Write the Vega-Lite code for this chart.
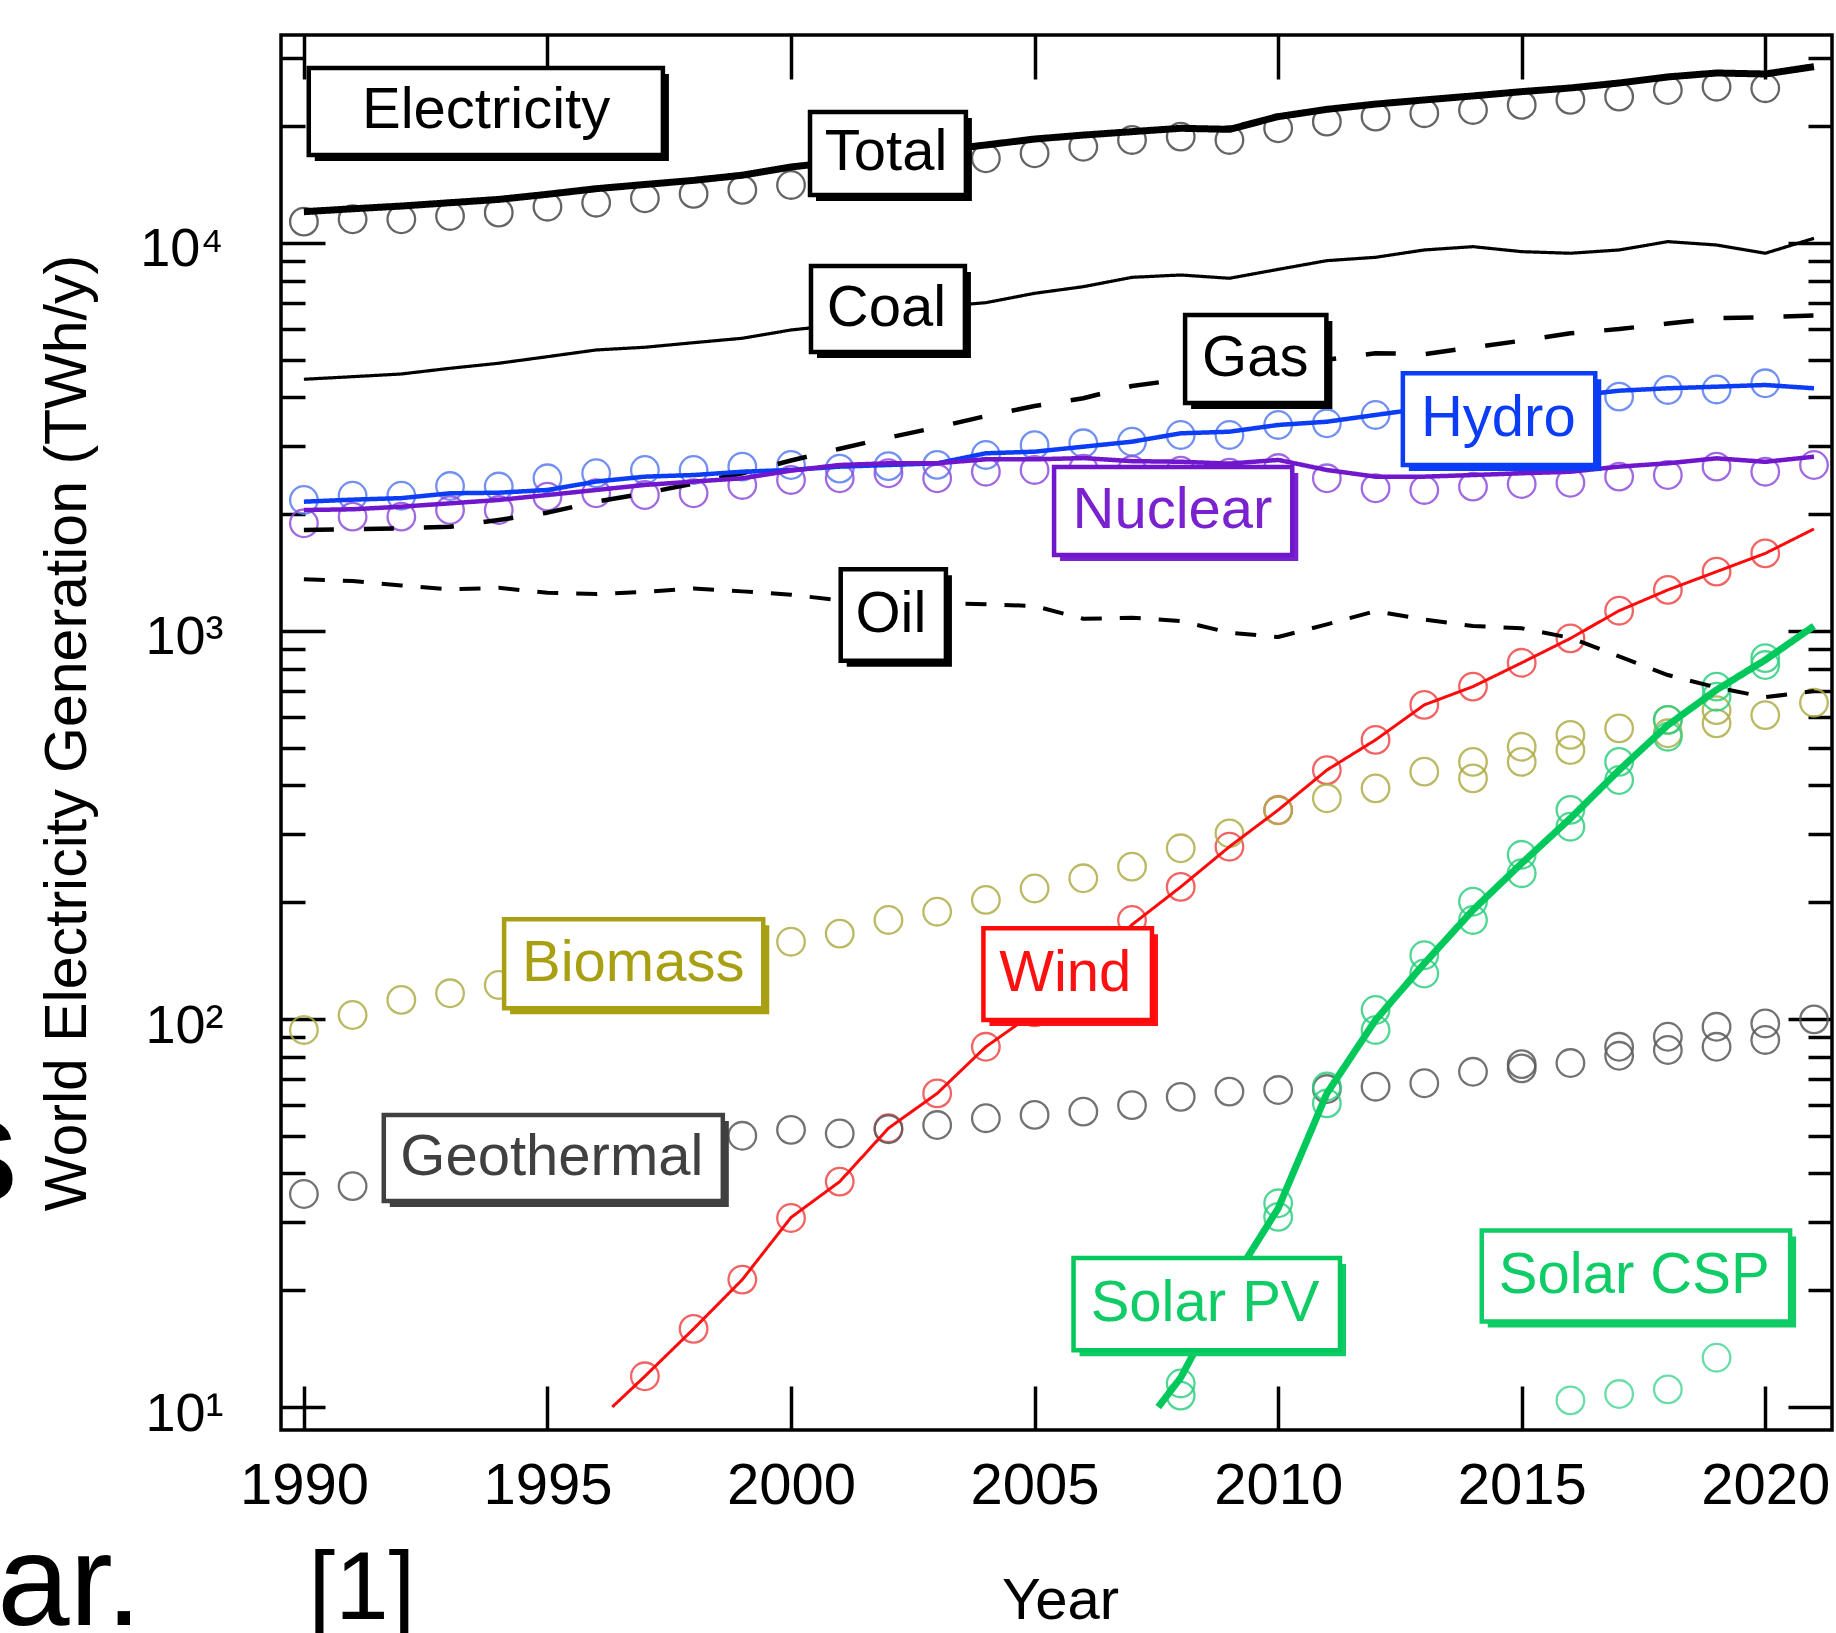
{
"$schema": "https://vega.github.io/schema/vega-lite/v6.json",
"width": 1551,
"height": 1395,
"autosize": {"type": "none"},
"padding": {"left": 281, "top": 35, "right": 4, "bottom": 203},
"background": "white",
"config": {"view": {"stroke": "black", "strokeWidth": 3.5}, "font": "Liberation Sans"},
"datasets": {
"lines": [
{"series":"Total","year":1990,"value":12040},{"series":"Total","year":1991,"value":12250},{"series":"Total","year":1992,"value":12450},{"series":"Total","year":1993,"value":12700},{"series":"Total","year":1994,"value":12950},{"series":"Total","year":1995,"value":13350},{"series":"Total","year":1996,"value":13800},{"series":"Total","year":1997,"value":14150},{"series":"Total","year":1998,"value":14500},{"series":"Total","year":1999,"value":14950},{"series":"Total","year":2000,"value":15700},{"series":"Total","year":2001,"value":16200},{"series":"Total","year":2002,"value":16700},{"series":"Total","year":2003,"value":17300},{"series":"Total","year":2004,"value":17890},{"series":"Total","year":2005,"value":18530},{"series":"Total","year":2006,"value":18970},{"series":"Total","year":2007,"value":19360},{"series":"Total","year":2008,"value":19750},{"series":"Total","year":2009,"value":19630},{"series":"Total","year":2010,"value":21160},{"series":"Total","year":2011,"value":22100},{"series":"Total","year":2012,"value":22800},{"series":"Total","year":2013,"value":23370},{"series":"Total","year":2014,"value":23930},{"series":"Total","year":2015,"value":24550},{"series":"Total","year":2016,"value":25090},{"series":"Total","year":2017,"value":25840},{"series":"Total","year":2018,"value":26790},{"series":"Total","year":2019,"value":27420},{"series":"Total","year":2020,"value":27260},{"series":"Total","year":2021,"value":28470},
{"series":"Coal","year":1990,"value":4454},{"series":"Coal","year":1991,"value":4523},{"series":"Coal","year":1992,"value":4596},{"series":"Coal","year":1993,"value":4754},{"series":"Coal","year":1994,"value":4898},{"series":"Coal","year":1995,"value":5093},{"series":"Coal","year":1996,"value":5300},{"series":"Coal","year":1997,"value":5386},{"series":"Coal","year":1998,"value":5534},{"series":"Coal","year":1999,"value":5681},{"series":"Coal","year":2000,"value":5968},{"series":"Coal","year":2001,"value":6150},{"series":"Coal","year":2002,"value":6450},{"series":"Coal","year":2003,"value":6850},{"series":"Coal","year":2004,"value":7016},{"series":"Coal","year":2005,"value":7418},{"series":"Coal","year":2006,"value":7715},{"series":"Coal","year":2007,"value":8155},{"series":"Coal","year":2008,"value":8270},{"series":"Coal","year":2009,"value":8110},{"series":"Coal","year":2010,"value":8550},{"series":"Coal","year":2011,"value":9004},{"series":"Coal","year":2012,"value":9185},{"series":"Coal","year":2013,"value":9594},{"series":"Coal","year":2014,"value":9784},{"series":"Coal","year":2015,"value":9498},{"series":"Coal","year":2016,"value":9408},{"series":"Coal","year":2017,"value":9594},{"series":"Coal","year":2018,"value":10080},{"series":"Coal","year":2019,"value":9881},{"series":"Coal","year":2020,"value":9408},{"series":"Coal","year":2021,"value":10280},
{"series":"Gas","year":1990,"value":1821},{"series":"Gas","year":1991,"value":1830},{"series":"Gas","year":1992,"value":1840},{"series":"Gas","year":1993,"value":1857},{"series":"Gas","year":1994,"value":1932},{"series":"Gas","year":1995,"value":2018},{"series":"Gas","year":1996,"value":2154},{"series":"Gas","year":1997,"value":2264},{"series":"Gas","year":1998,"value":2400},{"series":"Gas","year":1999,"value":2550},{"series":"Gas","year":2000,"value":2750},{"series":"Gas","year":2001,"value":2950},{"series":"Gas","year":2002,"value":3150},{"series":"Gas","year":2003,"value":3350},{"series":"Gas","year":2004,"value":3580},{"series":"Gas","year":2005,"value":3800},{"series":"Gas","year":2006,"value":3980},{"series":"Gas","year":2007,"value":4280},{"series":"Gas","year":2008,"value":4450},{"series":"Gas","year":2009,"value":4450},{"series":"Gas","year":2010,"value":4850},{"series":"Gas","year":2011,"value":5000},{"series":"Gas","year":2012,"value":5200},{"series":"Gas","year":2013,"value":5170},{"series":"Gas","year":2014,"value":5380},{"series":"Gas","year":2015,"value":5600},{"series":"Gas","year":2016,"value":5850},{"series":"Gas","year":2017,"value":6000},{"series":"Gas","year":2018,"value":6200},{"series":"Gas","year":2019,"value":6400},{"series":"Gas","year":2020,"value":6440},{"series":"Gas","year":2021,"value":6500},
{"series":"Oil","year":1990,"value":1360},{"series":"Oil","year":1991,"value":1345},{"series":"Oil","year":1992,"value":1310},{"series":"Oil","year":1993,"value":1280},{"series":"Oil","year":1994,"value":1292},{"series":"Oil","year":1995,"value":1255},{"series":"Oil","year":1996,"value":1245},{"series":"Oil","year":1997,"value":1262},{"series":"Oil","year":1998,"value":1287},{"series":"Oil","year":1999,"value":1265},{"series":"Oil","year":2000,"value":1240},{"series":"Oil","year":2001,"value":1200},{"series":"Oil","year":2002,"value":1190},{"series":"Oil","year":2003,"value":1180},{"series":"Oil","year":2004,"value":1172},{"series":"Oil","year":2005,"value":1160},{"series":"Oil","year":2006,"value":1075},{"series":"Oil","year":2007,"value":1082},{"series":"Oil","year":2008,"value":1061},{"series":"Oil","year":2009,"value":990},{"series":"Oil","year":2010,"value":965},{"series":"Oil","year":2011,"value":1040},{"series":"Oil","year":2012,"value":1125},{"series":"Oil","year":2013,"value":1070},{"series":"Oil","year":2014,"value":1030},{"series":"Oil","year":2015,"value":1016},{"series":"Oil","year":2016,"value":960},{"series":"Oil","year":2017,"value":860},{"series":"Oil","year":2018,"value":770},{"series":"Oil","year":2019,"value":715},{"series":"Oil","year":2020,"value":675},{"series":"Oil","year":2021,"value":700},
{"series":"Hydro","year":1990,"value":2154},{"series":"Hydro","year":1991,"value":2180},{"series":"Hydro","year":1992,"value":2200},{"series":"Hydro","year":1993,"value":2264},{"series":"Hydro","year":1994,"value":2272},{"series":"Hydro","year":1995,"value":2309},{"series":"Hydro","year":1996,"value":2427},{"series":"Hydro","year":1997,"value":2499},{"series":"Hydro","year":1998,"value":2523},{"series":"Hydro","year":1999,"value":2573},{"series":"Hydro","year":2000,"value":2600},{"series":"Hydro","year":2001,"value":2652},{"series":"Hydro","year":2002,"value":2678},{"series":"Hydro","year":2003,"value":2705},{"series":"Hydro","year":2004,"value":2871},{"series":"Hydro","year":2005,"value":2898},{"series":"Hydro","year":2006,"value":2985},{"series":"Hydro","year":2007,"value":3075},{"series":"Hydro","year":2008,"value":3232},{"series":"Hydro","year":2009,"value":3263},{"series":"Hydro","year":2010,"value":3396},{"series":"Hydro","year":2011,"value":3462},{"series":"Hydro","year":2012,"value":3604},{"series":"Hydro","year":2013,"value":3750},{"series":"Hydro","year":2014,"value":3860},{"series":"Hydro","year":2015,"value":3900},{"series":"Hydro","year":2016,"value":4030},{"series":"Hydro","year":2017,"value":4162},{"series":"Hydro","year":2018,"value":4222},{"series":"Hydro","year":2019,"value":4262},{"series":"Hydro","year":2020,"value":4305},{"series":"Hydro","year":2021,"value":4222},
{"series":"Nuclear","year":1990,"value":2050},{"series":"Nuclear","year":1991,"value":2059},{"series":"Nuclear","year":1992,"value":2091},{"series":"Nuclear","year":1993,"value":2133},{"series":"Nuclear","year":1994,"value":2176},{"series":"Nuclear","year":1995,"value":2241},{"series":"Nuclear","year":1996,"value":2309},{"series":"Nuclear","year":1997,"value":2379},{"series":"Nuclear","year":1998,"value":2427},{"series":"Nuclear","year":1999,"value":2475},{"series":"Nuclear","year":2000,"value":2590},{"series":"Nuclear","year":2001,"value":2678},{"series":"Nuclear","year":2002,"value":2705},{"series":"Nuclear","year":2003,"value":2705},{"series":"Nuclear","year":2004,"value":2770},{"series":"Nuclear","year":2005,"value":2770},{"series":"Nuclear","year":2006,"value":2790},{"series":"Nuclear","year":2007,"value":2740},{"series":"Nuclear","year":2008,"value":2730},{"series":"Nuclear","year":2009,"value":2700},{"series":"Nuclear","year":2010,"value":2760},{"series":"Nuclear","year":2011,"value":2600},{"series":"Nuclear","year":2012,"value":2499},{"series":"Nuclear","year":2013,"value":2499},{"series":"Nuclear","year":2014,"value":2523},{"series":"Nuclear","year":2015,"value":2550},{"series":"Nuclear","year":2016,"value":2573},{"series":"Nuclear","year":2017,"value":2652},{"series":"Nuclear","year":2018,"value":2705},{"series":"Nuclear","year":2019,"value":2786},{"series":"Nuclear","year":2020,"value":2729},{"series":"Nuclear","year":2021,"value":2813},
{"series":"Wind","year":1996.33,"value":10},{"series":"Wind","year":1997,"value":12.0},{"series":"Wind","year":1998,"value":15.9},{"series":"Wind","year":1999,"value":21.3},{"series":"Wind","year":2000,"value":30.8},{"series":"Wind","year":2001,"value":38.1},{"series":"Wind","year":2002,"value":52.3},{"series":"Wind","year":2003,"value":64.3},{"series":"Wind","year":2004,"value":84.8},{"series":"Wind","year":2005,"value":104},{"series":"Wind","year":2006,"value":133},{"series":"Wind","year":2007,"value":175},{"series":"Wind","year":2008,"value":219},{"series":"Wind","year":2009,"value":278},{"series":"Wind","year":2010,"value":345.6},{"series":"Wind","year":2011,"value":438},{"series":"Wind","year":2012,"value":524},{"series":"Wind","year":2013,"value":645},{"series":"Wind","year":2014,"value":719},{"series":"Wind","year":2015,"value":828},{"series":"Wind","year":2016,"value":957},{"series":"Wind","year":2017,"value":1128},{"series":"Wind","year":2018,"value":1276},{"series":"Wind","year":2019,"value":1422},{"series":"Wind","year":2020,"value":1585},{"series":"Wind","year":2021,"value":1832},
{"series":"Solar PV","year":2007.54,"value":10},{"series":"Solar PV","year":2008,"value":11.9},{"series":"Solar PV","year":2009,"value":20.5},{"series":"Solar PV","year":2010,"value":32.5},{"series":"Solar PV","year":2011,"value":64.3},{"series":"Solar PV","year":2012,"value":99.4},{"series":"Solar PV","year":2013,"value":139},{"series":"Solar PV","year":2014,"value":191},{"series":"Solar PV","year":2015,"value":252},{"series":"Solar PV","year":2016,"value":329},{"series":"Solar PV","year":2017,"value":438},{"series":"Solar PV","year":2018,"value":572},{"series":"Solar PV","year":2019,"value":705},{"series":"Solar PV","year":2020,"value":842},{"series":"Solar PV","year":2021,"value":1030}
],
"points": [
{"series":"Total","year":1990,"value":11350},{"series":"Total","year":1991,"value":11510},{"series":"Total","year":1992,"value":11510},{"series":"Total","year":1993,"value":11740},{"series":"Total","year":1994,"value":11970},{"series":"Total","year":1995,"value":12400},{"series":"Total","year":1996,"value":12700},{"series":"Total","year":1997,"value":13040},{"series":"Total","year":1998,"value":13380},{"series":"Total","year":1999,"value":13700},{"series":"Total","year":2000,"value":14110},{"series":"Total","year":2001,"value":14700},{"series":"Total","year":2002,"value":15250},{"series":"Total","year":2003,"value":15900},{"series":"Total","year":2004,"value":16530},{"series":"Total","year":2005,"value":17030},{"series":"Total","year":2006,"value":17700},{"series":"Total","year":2007,"value":18430},{"series":"Total","year":2008,"value":18790},{"series":"Total","year":2009,"value":18430},{"series":"Total","year":2010,"value":19750},{"series":"Total","year":2011,"value":20540},{"series":"Total","year":2012,"value":21160},{"series":"Total","year":2013,"value":21600},{"series":"Total","year":2014,"value":22020},{"series":"Total","year":2015,"value":22690},{"series":"Total","year":2016,"value":23370},{"series":"Total","year":2017,"value":23830},{"series":"Total","year":2018,"value":24790},{"series":"Total","year":2019,"value":25280},{"series":"Total","year":2020,"value":25050},
{"series":"Hydro","year":1990,"value":2176},{"series":"Hydro","year":1991,"value":2232},{"series":"Hydro","year":1992,"value":2232},{"series":"Hydro","year":1993,"value":2364},{"series":"Hydro","year":1994,"value":2357},{"series":"Hydro","year":1995,"value":2475},{"series":"Hydro","year":1996,"value":2550},{"series":"Hydro","year":1997,"value":2600},{"series":"Hydro","year":1998,"value":2600},{"series":"Hydro","year":1999,"value":2652},{"series":"Hydro","year":2000,"value":2678},{"series":"Hydro","year":2001,"value":2620},{"series":"Hydro","year":2002,"value":2660},{"series":"Hydro","year":2003,"value":2680},{"series":"Hydro","year":2004,"value":2842},{"series":"Hydro","year":2005,"value":3014},{"series":"Hydro","year":2006,"value":3046},{"series":"Hydro","year":2007,"value":3075},{"series":"Hydro","year":2008,"value":3200},{"series":"Hydro","year":2009,"value":3200},{"series":"Hydro","year":2010,"value":3396},{"series":"Hydro","year":2011,"value":3430},{"series":"Hydro","year":2012,"value":3604},{"series":"Hydro","year":2013,"value":3750},{"series":"Hydro","year":2014,"value":3850},{"series":"Hydro","year":2015,"value":3880},{"series":"Hydro","year":2016,"value":3950},{"series":"Hydro","year":2017,"value":4017},{"series":"Hydro","year":2018,"value":4180},{"series":"Hydro","year":2019,"value":4193},{"series":"Hydro","year":2020,"value":4349},
{"series":"Nuclear","year":1990,"value":1895},{"series":"Nuclear","year":1991,"value":1971},{"series":"Nuclear","year":1992,"value":1971},{"series":"Nuclear","year":1993,"value":2050},{"series":"Nuclear","year":1994,"value":2050},{"series":"Nuclear","year":1995,"value":2219},{"series":"Nuclear","year":1996,"value":2264},{"series":"Nuclear","year":1997,"value":2241},{"series":"Nuclear","year":1998,"value":2264},{"series":"Nuclear","year":1999,"value":2379},{"series":"Nuclear","year":2000,"value":2450},{"series":"Nuclear","year":2001,"value":2475},{"series":"Nuclear","year":2002,"value":2550},{"series":"Nuclear","year":2003,"value":2475},{"series":"Nuclear","year":2004,"value":2573},{"series":"Nuclear","year":2005,"value":2600},{"series":"Nuclear","year":2006,"value":2620},{"series":"Nuclear","year":2007,"value":2600},{"series":"Nuclear","year":2008,"value":2590},{"series":"Nuclear","year":2009,"value":2560},{"series":"Nuclear","year":2010,"value":2630},{"series":"Nuclear","year":2011,"value":2475},{"series":"Nuclear","year":2012,"value":2332},{"series":"Nuclear","year":2013,"value":2309},{"series":"Nuclear","year":2014,"value":2355},{"series":"Nuclear","year":2015,"value":2392},{"series":"Nuclear","year":2016,"value":2410},{"series":"Nuclear","year":2017,"value":2499},{"series":"Nuclear","year":2018,"value":2523},{"series":"Nuclear","year":2019,"value":2652},{"series":"Nuclear","year":2020,"value":2573},{"series":"Nuclear","year":2021,"value":2678},
{"series":"Wind","year":1997,"value":12.0},{"series":"Wind","year":1998,"value":15.9},{"series":"Wind","year":1999,"value":21.3},{"series":"Wind","year":2000,"value":30.7},{"series":"Wind","year":2001,"value":38.1},{"series":"Wind","year":2002,"value":52.3},{"series":"Wind","year":2003,"value":64.3},{"series":"Wind","year":2004,"value":84.8},{"series":"Wind","year":2005,"value":104},{"series":"Wind","year":2006,"value":133},{"series":"Wind","year":2007,"value":180},{"series":"Wind","year":2008,"value":219},{"series":"Wind","year":2009,"value":278},{"series":"Wind","year":2010,"value":345.6},{"series":"Wind","year":2011,"value":438},{"series":"Wind","year":2012,"value":524},{"series":"Wind","year":2013,"value":645},{"series":"Wind","year":2014,"value":719},{"series":"Wind","year":2015,"value":828},{"series":"Wind","year":2016,"value":957},{"series":"Wind","year":2017,"value":1128},{"series":"Wind","year":2018,"value":1276},{"series":"Wind","year":2019,"value":1422},{"series":"Wind","year":2020,"value":1585},
{"series":"Biomass","year":1990,"value":93.7},{"series":"Biomass","year":1991,"value":102.4},{"series":"Biomass","year":1992,"value":112},{"series":"Biomass","year":1993,"value":116.5},{"series":"Biomass","year":1994,"value":122.4},{"series":"Biomass","year":1995,"value":128},{"series":"Biomass","year":1996,"value":134},{"series":"Biomass","year":1997,"value":140},{"series":"Biomass","year":1998,"value":146},{"series":"Biomass","year":1999,"value":152},{"series":"Biomass","year":2000,"value":158.2},{"series":"Biomass","year":2001,"value":166},{"series":"Biomass","year":2002,"value":180},{"series":"Biomass","year":2003,"value":189},{"series":"Biomass","year":2004,"value":202.7},{"series":"Biomass","year":2005,"value":217},{"series":"Biomass","year":2006,"value":230.5},{"series":"Biomass","year":2007,"value":247},{"series":"Biomass","year":2008,"value":275.4},{"series":"Biomass","year":2009,"value":301},{"series":"Biomass","year":2010,"value":345},{"series":"Biomass","year":2011,"value":370.6},{"series":"Biomass","year":2012,"value":393},{"series":"Biomass","year":2013,"value":434},{"series":"Biomass","year":2014,"value":460},{"series":"Biomass","year":2014,"value":417},{"series":"Biomass","year":2015,"value":503},{"series":"Biomass","year":2015,"value":460},{"series":"Biomass","year":2016,"value":540},{"series":"Biomass","year":2016,"value":493},{"series":"Biomass","year":2017,"value":561},{"series":"Biomass","year":2018,"value":590},{"series":"Biomass","year":2018,"value":545},{"series":"Biomass","year":2019,"value":625},{"series":"Biomass","year":2019,"value":578},{"series":"Biomass","year":2020,"value":607},{"series":"Biomass","year":2021,"value":653},
{"series":"Geothermal","year":1990,"value":35.4},{"series":"Geothermal","year":1991,"value":37.1},{"series":"Geothermal","year":1992,"value":38},{"series":"Geothermal","year":1993,"value":39},{"series":"Geothermal","year":1994,"value":40},{"series":"Geothermal","year":1995,"value":40.5},{"series":"Geothermal","year":1996,"value":42},{"series":"Geothermal","year":1997,"value":44},{"series":"Geothermal","year":1998,"value":46},{"series":"Geothermal","year":1999,"value":50},{"series":"Geothermal","year":2000,"value":51.8},{"series":"Geothermal","year":2001,"value":50.7},{"series":"Geothermal","year":2002,"value":52},{"series":"Geothermal","year":2003,"value":53.3},{"series":"Geothermal","year":2004,"value":55.5},{"series":"Geothermal","year":2005,"value":56.6},{"series":"Geothermal","year":2006,"value":57.7},{"series":"Geothermal","year":2007,"value":60},{"series":"Geothermal","year":2008,"value":63},{"series":"Geothermal","year":2009,"value":65},{"series":"Geothermal","year":2010,"value":65.6},{"series":"Geothermal","year":2011,"value":66},{"series":"Geothermal","year":2012,"value":66.9},{"series":"Geothermal","year":2013,"value":68.3},{"series":"Geothermal","year":2014,"value":73.1},{"series":"Geothermal","year":2015,"value":74.6},{"series":"Geothermal","year":2015,"value":76.5},{"series":"Geothermal","year":2016,"value":77},{"series":"Geothermal","year":2017,"value":80.4},{"series":"Geothermal","year":2017,"value":84.8},{"series":"Geothermal","year":2018,"value":83.2},{"series":"Geothermal","year":2018,"value":90},{"series":"Geothermal","year":2019,"value":84.8},{"series":"Geothermal","year":2019,"value":95.5},{"series":"Geothermal","year":2020,"value":88.3},{"series":"Geothermal","year":2020,"value":97.4},{"series":"Geothermal","year":2021,"value":99.8},
{"series":"Solar PV","year":2008,"value":11.5},{"series":"Solar PV","year":2008,"value":10.7},{"series":"Solar PV","year":2009,"value":21},{"series":"Solar PV","year":2009,"value":19.5},{"series":"Solar PV","year":2010,"value":33.5},{"series":"Solar PV","year":2010,"value":30.9},{"series":"Solar PV","year":2011,"value":67},{"series":"Solar PV","year":2011,"value":60.6},{"series":"Solar PV","year":2012,"value":105.5},{"series":"Solar PV","year":2012,"value":93.7},{"series":"Solar PV","year":2013,"value":146},{"series":"Solar PV","year":2013,"value":131},{"series":"Solar PV","year":2014,"value":200.6},{"series":"Solar PV","year":2014,"value":180},{"series":"Solar PV","year":2015,"value":265},{"series":"Solar PV","year":2015,"value":237.5},{"series":"Solar PV","year":2016,"value":346},{"series":"Solar PV","year":2016,"value":313},{"series":"Solar PV","year":2017,"value":460},{"series":"Solar PV","year":2017,"value":413},{"series":"Solar PV","year":2018,"value":590},{"series":"Solar PV","year":2018,"value":534},{"series":"Solar PV","year":2019,"value":719},{"series":"Solar PV","year":2019,"value":677},{"series":"Solar PV","year":2020,"value":851},{"series":"Solar PV","year":2020,"value":817},
{"series":"Solar CSP","year":2016,"value":10.4},{"series":"Solar CSP","year":2017,"value":10.8},{"series":"Solar CSP","year":2018,"value":11.1},{"series":"Solar CSP","year":2019,"value":13.4}
],
"labels": [
{"series":"Electricity","xa":1990.10,"xb":1997.37,"ya":28250,"yb":16860,"tx":1993.74,"ty":21830},
{"series":"Total","xa":2000.39,"xb":2003.59,"ya":21760,"yb":13300,"tx":2001.95,"ty":17010},
{"series":"Coal","xa":2000.41,"xb":2003.57,"ya":8724,"yb":5237,"tx":2001.96,"ty":6760},
{"series":"Gas","xa":2008.09,"xb":2010.99,"ya":6522,"yb":3869,"tx":2009.53,"ty":5023},
{"series":"Hydro","xa":2012.56,"xb":2016.51,"ya":4616,"yb":2678,"tx":2014.52,"ty":3519},
{"series":"Nuclear","xa":2005.40,"xb":2010.29,"ya":2647,"yb":1570,"tx":2007.83,"ty":2039},
{"series":"Oil","xa":2001.02,"xb":2003.18,"ya":1442,"yb":838,"tx":2002.05,"ty":1100},
{"series":"Wind","xa":2003.95,"xb":2007.41,"ya":171.3,"yb":99.4,"tx":2005.63,"ty":130.6},
{"series":"Biomass","xa":1994.11,"xb":1999.43,"ya":180.7,"yb":106.6,"tx":1996.76,"ty":138.6},
{"series":"Geothermal","xa":1991.64,"xb":1998.60,"ya":56.6,"yb":33.95,"tx":1995.09,"ty":43.8},
{"series":"Solar PV","xa":2005.80,"xb":2011.27,"ya":24.2,"yb":14.0,"tx":2008.50,"ty":18.4},
{"series":"Solar CSP","xa":2014.18,"xb":2020.51,"ya":28.5,"yb":16.6,"tx":2017.31,"ty":21.8}
],
"notes": [
{"t":"[1]","x":1991.19,"y":2.84,"f":"a"},
{"t":"ar.","x":1985.19,"y":2.74,"f":"b"},
{"t":"s","x":1983.36,"y":34,"f":"c"}
]
},
"resolve": {"axis": {"x": "independent", "y": "independent"}},
"layer": [
{
"data": {"name": "points"},
"mark": {"type": "point", "shape": "circle", "filled": false, "size": 760, "strokeWidth": 2.3, "opacity": 0.85},
"encoding": {
"x": {"field": "year", "type": "quantitative", "scale": {"domain": [1989.53, 2021.37], "nice": false, "zero": false},
"axis": {"orient": "bottom", "values": [1990, 1995, 2000, 2005, 2010, 2015, 2020], "format": "d", "tickSize": -44, "tickWidth": 3.5, "tickColor": "black", "labelPadding": 71, "labelFontSize": 58, "labelFont": "Liberation Sans", "labelColor": "black", "labelFlush": false, "labelOverlap": false, "domain": false, "grid": false, "title": "Year", "titleFont": "Liberation Sans", "titleFontSize": 58, "titleFontWeight": "normal", "titleColor": "black", "titleX": 779, "titleY": 171, "titleBaseline": "middle"}},
"y": {"field": "value", "type": "quantitative", "scale": {"type": "log", "domain": [8.725, 34356], "nice": false},
"axis": {"orient": "left", "values": [10, 20, 30, 40, 50, 60, 70, 80, 90, 100, 200, 300, 400, 500, 600, 700, 800, 900, 1000, 2000, 3000, 4000, 5000, 6000, 7000, 8000, 9000, 10000, 20000, 30000],
"labelExpr": "datum.value == 10 ? '10¹' : datum.value == 100 ? '10²' : datum.value == 1000 ? '10³' : datum.value == 10000 ? '10⁴' : ''",
"tickSize": {"condition": {"test": "datum.value == 10 || datum.value == 100 || datum.value == 1000 || datum.value == 10000", "value": -44}, "value": -24},
"tickWidth": 3.5, "tickColor": "black", "labelPadding": 102, "labelFontSize": 54, "labelFont": "Liberation Sans", "labelColor": "black", "labelAlign": "right", "labelBaseline": "middle", "labelOffset": 7, "labelFlush": false, "labelOverlap": false, "domain": false, "grid": false,
"title": "World Electricity Generation (TWh/y)", "titleFont": "Liberation Sans", "titleFontSize": 59, "titleFontWeight": "normal", "titleColor": "black", "titleX": -214, "titleY": 697.5, "titleAngle": -90, "titleAlign": "center", "titleBaseline": "middle"}},
"color": {"field": "series", "type": "nominal",
"scale": {"domain": ["Total", "Hydro", "Nuclear", "Wind", "Biomass", "Geothermal", "Solar PV", "Solar CSP"], "range": ["#4a4a4a", "#5a7cf0", "#9150dc", "#f04848", "#b0ad48", "#5a5a5a", "#30d080", "#50d898"]}, "legend": null}
}
},
{
"data": {"name": "lines"},
"mark": {"type": "line", "strokeCap": "butt", "strokeJoin": "round"},
"encoding": {
"x": {"field": "year", "type": "quantitative", "scale": {"domain": [1989.53, 2021.37], "nice": false, "zero": false},
"axis": {"orient": "top", "values": [1990, 1995, 2000, 2005, 2010, 2015, 2020], "labels": false, "tickSize": -44, "tickWidth": 3.5, "tickColor": "black", "domain": false, "grid": false, "title": null}},
"y": {"field": "value", "type": "quantitative", "scale": {"type": "log", "domain": [8.725, 34356], "nice": false},
"axis": {"orient": "right", "values": [10, 20, 30, 40, 50, 60, 70, 80, 90, 100, 200, 300, 400, 500, 600, 700, 800, 900, 1000, 2000, 3000, 4000, 5000, 6000, 7000, 8000, 9000, 10000, 20000, 30000], "labels": false,
"tickSize": {"condition": {"test": "datum.value == 10 || datum.value == 100 || datum.value == 1000 || datum.value == 10000", "value": -44}, "value": -24},
"tickWidth": 3.5, "tickColor": "black", "domain": false, "grid": false, "title": null}},
"stroke": {"field": "series", "type": "nominal",
"scale": {"domain": ["Electricity", "Total", "Coal", "Gas", "Oil", "Hydro", "Nuclear", "Wind", "Biomass", "Geothermal", "Solar PV", "Solar CSP"], "range": ["#000000", "#000000", "#000000", "#000000", "#000000", "#0a3df5", "#7016cc", "#ff0a0a", "#a8a012", "#404040", "#00c85a", "#10cc66"]}, "legend": null},
"strokeWidth": {"field": "series", "type": "nominal",
"scale": {"type": "ordinal", "domain": ["Total", "Coal", "Gas", "Oil", "Hydro", "Nuclear", "Wind", "Solar PV"], "range": [7, 3.2, 4.5, 4, 4.5, 4.5, 3, 7]}, "legend": null},
"strokeDash": {"field": "series", "type": "nominal",
"scale": {"domain": ["Total", "Coal", "Gas", "Oil", "Hydro", "Nuclear", "Wind", "Solar PV"], "range": [[1, 0], [1, 0], [30, 30], [21, 18], [1, 0], [1, 0], [1, 0], [1, 0]]}, "legend": null}
}
},
{
"data": {"name": "labels"},
"mark": {"type": "rect", "xOffset": 6, "x2Offset": 6, "yOffset": 6, "y2Offset": 6},
"encoding": {
"x": {"field": "xa", "type": "quantitative", "scale": {"domain": [1989.53, 2021.37], "nice": false, "zero": false}, "axis": null},
"x2": {"field": "xb"},
"y": {"field": "ya", "type": "quantitative", "scale": {"type": "log", "domain": [8.725, 34356], "nice": false}, "axis": null},
"y2": {"field": "yb"},
"fill": {"field": "series", "type": "nominal",
"scale": {"domain": ["Electricity", "Total", "Coal", "Gas", "Oil", "Hydro", "Nuclear", "Wind", "Biomass", "Geothermal", "Solar PV", "Solar CSP"], "range": ["#000000", "#000000", "#000000", "#000000", "#000000", "#0a3df5", "#7a22d0", "#ff1010", "#a8a012", "#404040", "#10cc66", "#10cc66"]}, "legend": null}
}
},
{
"data": {"name": "labels"},
"mark": {"type": "rect", "fill": "white", "strokeWidth": 4.5},
"encoding": {
"x": {"field": "xa", "type": "quantitative", "scale": {"domain": [1989.53, 2021.37], "nice": false, "zero": false}, "axis": null},
"x2": {"field": "xb"},
"y": {"field": "ya", "type": "quantitative", "scale": {"type": "log", "domain": [8.725, 34356], "nice": false}, "axis": null},
"y2": {"field": "yb"},
"stroke": {"field": "series", "type": "nominal", "legend": null}
}
},
{
"data": {"name": "labels"},
"mark": {"type": "text", "fontSize": 58, "font": "Liberation Sans", "align": "center", "baseline": "middle"},
"encoding": {
"x": {"field": "tx", "type": "quantitative", "scale": {"domain": [1989.53, 2021.37], "nice": false, "zero": false}, "axis": null},
"y": {"field": "ty", "type": "quantitative", "scale": {"type": "log", "domain": [8.725, 34356], "nice": false}, "axis": null},
"text": {"field": "series"},
"fill": {"field": "series", "type": "nominal", "legend": null}
}
},
{
"data": {"name": "notes"},
"mark": {"type": "text", "font": "Liberation Sans", "align": "center", "baseline": "alphabetic", "color": "black"},
"encoding": {
"x": {"field": "x", "type": "quantitative", "scale": {"domain": [1989.53, 2021.37], "nice": false, "zero": false}, "axis": null},
"y": {"field": "y", "type": "quantitative", "scale": {"type": "log", "domain": [8.725, 34356], "nice": false}, "axis": null},
"text": {"field": "t"},
"size": {"field": "f", "type": "nominal", "scale": {"type": "ordinal", "domain": ["a", "b", "c"], "range": [96, 130, 150]}, "legend": null}
}
}
]
}
